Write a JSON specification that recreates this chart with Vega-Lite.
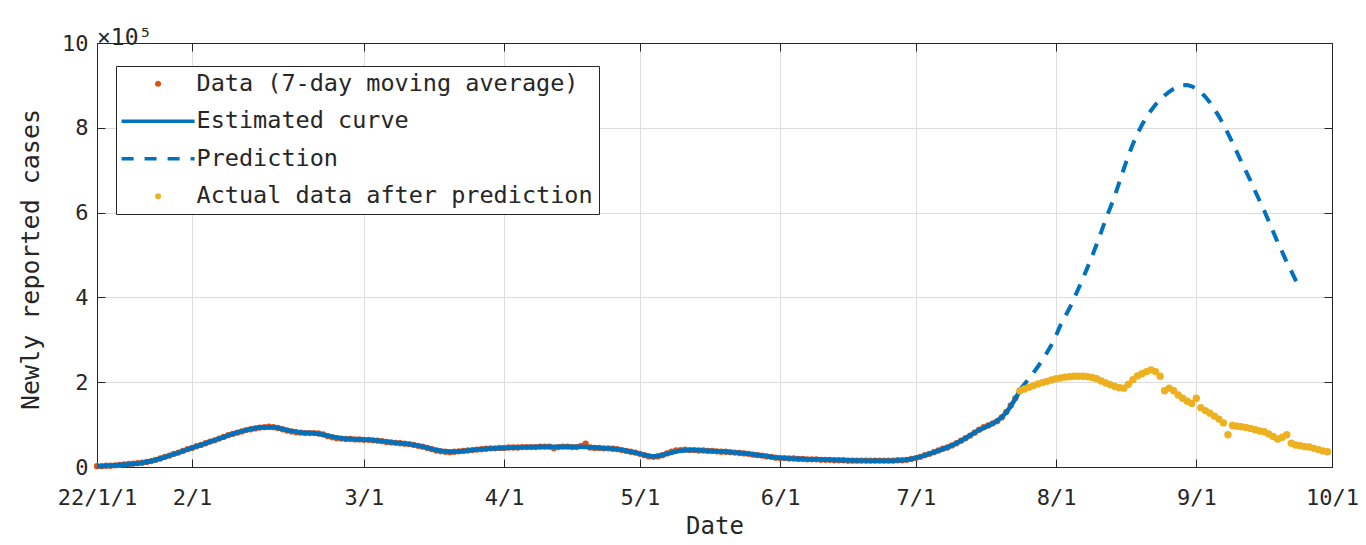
{
  "$schema": "https://vega.github.io/schema/vega-lite/v6.json",
  "autosize": "none",
  "width": 1235,
  "height": 424,
  "padding": {"left": 97, "top": 43, "right": 34, "bottom": 78},
  "background": "white",
  "title": {
    "text": "×10⁵",
    "anchor": "start",
    "frame": "group",
    "orient": "top",
    "offset": 2,
    "dy": 38,
    "baseline": "alphabetic",
    "fontSize": 23,
    "fontWeight": "normal",
    "font": "DejaVu Sans Mono",
    "color": "#262626"
  },
  "datasets": {
    "observed": [
      {"d":0,"v":2000},{"d":1,"v":2000},{"d":2,"v":3000},{"d":3,"v":3000},{"d":4,"v":4000},{"d":5,"v":5000},{"d":6,"v":6000},{"d":7,"v":7000},{"d":8,"v":8000},{"d":9,"v":9000},
      {"d":10,"v":10000},{"d":11,"v":12000},{"d":12,"v":14000},{"d":13,"v":17000},{"d":14,"v":20000},{"d":15,"v":24000},{"d":16,"v":27000},{"d":17,"v":31000},{"d":18,"v":34000},{"d":19,"v":38000},
      {"d":20,"v":42000},{"d":21,"v":45000},{"d":22,"v":49000},{"d":23,"v":52000},{"d":24,"v":56000},{"d":25,"v":60000},{"d":26,"v":63000},{"d":27,"v":67000},{"d":28,"v":71000},{"d":29,"v":75000},
      {"d":30,"v":78000},{"d":31,"v":81000},{"d":32,"v":84000},{"d":33,"v":87000},{"d":34,"v":89000},{"d":35,"v":91000},{"d":36,"v":93000},{"d":37,"v":94000},{"d":38,"v":95000},{"d":39,"v":94000},
      {"d":40,"v":92000},{"d":41,"v":89000},{"d":42,"v":86000},{"d":43,"v":84000},{"d":44,"v":82000},{"d":45,"v":81000},{"d":46,"v":80000},{"d":47,"v":80000},{"d":48,"v":80000},{"d":49,"v":79000},
      {"d":50,"v":77000},{"d":51,"v":73000},{"d":52,"v":70000},{"d":53,"v":68000},{"d":54,"v":67000},{"d":55,"v":66000},{"d":56,"v":66000},{"d":57,"v":65000},{"d":58,"v":65000},{"d":59,"v":64000},
      {"d":60,"v":64000},{"d":61,"v":63000},{"d":62,"v":62000},{"d":63,"v":61000},{"d":64,"v":59000},{"d":65,"v":58000},{"d":66,"v":57000},{"d":67,"v":56000},{"d":68,"v":55000},{"d":69,"v":54000},
      {"d":70,"v":52000},{"d":71,"v":50000},{"d":72,"v":48000},{"d":73,"v":45000},{"d":74,"v":42000},{"d":75,"v":39000},{"d":76,"v":37000},{"d":77,"v":36000},{"d":78,"v":35000},{"d":79,"v":36000},
      {"d":80,"v":37000},{"d":81,"v":38000},{"d":82,"v":39000},{"d":83,"v":40000},{"d":84,"v":41000},{"d":85,"v":42000},{"d":86,"v":43000},{"d":87,"v":44000},{"d":88,"v":44000},{"d":89,"v":45000},
      {"d":90,"v":45000},{"d":91,"v":46000},{"d":92,"v":46000},{"d":93,"v":46000},{"d":94,"v":47000},{"d":95,"v":47000},{"d":96,"v":47000},{"d":97,"v":47000},{"d":98,"v":48000},{"d":99,"v":48000},
      {"d":100,"v":48000},{"d":101,"v":44000},{"d":102,"v":47000},{"d":103,"v":48000},{"d":104,"v":48000},{"d":105,"v":47000},{"d":106,"v":47000},{"d":107,"v":50000},{"d":108,"v":55000},{"d":109,"v":46000},
      {"d":110,"v":45000},{"d":111,"v":45000},{"d":112,"v":44000},{"d":113,"v":44000},{"d":114,"v":43000},{"d":115,"v":42000},{"d":116,"v":40000},{"d":117,"v":38000},{"d":118,"v":36000},{"d":119,"v":34000},
      {"d":120,"v":31000},{"d":121,"v":28000},{"d":122,"v":25000},{"d":123,"v":24000},{"d":124,"v":25000},{"d":125,"v":28000},{"d":126,"v":32000},{"d":127,"v":36000},{"d":128,"v":39000},{"d":129,"v":40000},
      {"d":130,"v":41000},{"d":131,"v":40000},{"d":132,"v":40000},{"d":133,"v":39000},{"d":134,"v":39000},{"d":135,"v":38000},{"d":136,"v":38000},{"d":137,"v":37000},{"d":138,"v":36000},{"d":139,"v":36000},
      {"d":140,"v":35000},{"d":141,"v":34000},{"d":142,"v":33000},{"d":143,"v":32000},{"d":144,"v":31000},{"d":145,"v":29000},{"d":146,"v":28000},{"d":147,"v":27000},{"d":148,"v":25000},{"d":149,"v":24000},
      {"d":150,"v":22000},{"d":151,"v":21000},{"d":152,"v":21000},{"d":153,"v":20000},{"d":154,"v":20000},{"d":155,"v":19000},{"d":156,"v":19000},{"d":157,"v":18000},{"d":158,"v":18000},{"d":159,"v":18000},
      {"d":160,"v":17000},{"d":161,"v":17000},{"d":162,"v":17000},{"d":163,"v":16000},{"d":164,"v":16000},{"d":165,"v":16000},{"d":166,"v":15000},{"d":167,"v":15000},{"d":168,"v":15000},{"d":169,"v":15000},
      {"d":170,"v":15000},{"d":171,"v":15000},{"d":172,"v":15000},{"d":173,"v":15000},{"d":174,"v":15000},{"d":175,"v":15000},{"d":176,"v":15000},{"d":177,"v":16000},{"d":178,"v":16000},{"d":179,"v":17000},
      {"d":180,"v":19000},{"d":181,"v":21000},{"d":182,"v":24000},{"d":183,"v":28000},{"d":184,"v":31000},{"d":185,"v":35000},{"d":186,"v":39000},{"d":187,"v":43000},{"d":188,"v":46000},{"d":189,"v":51000},
      {"d":190,"v":56000},{"d":191,"v":62000},{"d":192,"v":68000},{"d":193,"v":74000},{"d":194,"v":81000},{"d":195,"v":88000},{"d":196,"v":94000},{"d":197,"v":98000},{"d":198,"v":103000},{"d":199,"v":108000},
      {"d":200,"v":117000},{"d":201,"v":130000},{"d":202,"v":145000},{"d":203,"v":162000},{"d":204,"v":180000}
    ],
    "fitted": [
      {"d":0,"v":2000},{"d":3,"v":3000},{"d":6,"v":5500},{"d":9,"v":8500},{"d":12,"v":14000},{"d":15,"v":23000},{"d":18,"v":34000},{"d":21,"v":45000},{"d":24,"v":56000},{"d":27,"v":67000},
      {"d":30,"v":78000},{"d":33,"v":87000},{"d":36,"v":93000},{"d":39,"v":94000},{"d":42,"v":87000},{"d":45,"v":81500},{"d":48,"v":79500},{"d":51,"v":74000},{"d":54,"v":68000},{"d":57,"v":65500},
      {"d":60,"v":64000},{"d":63,"v":61000},{"d":66,"v":57000},{"d":69,"v":54000},{"d":72,"v":48000},{"d":75,"v":40000},{"d":78,"v":36000},{"d":81,"v":38000},{"d":84,"v":41000},{"d":87,"v":43500},
      {"d":90,"v":45000},{"d":93,"v":46000},{"d":96,"v":47000},{"d":99,"v":47500},{"d":102,"v":47500},{"d":105,"v":47500},{"d":108,"v":47000},{"d":111,"v":45000},{"d":114,"v":43000},{"d":117,"v":38500},
      {"d":120,"v":31000},{"d":123,"v":25000},{"d":126,"v":31000},{"d":129,"v":38500},{"d":132,"v":40000},{"d":135,"v":38500},{"d":138,"v":36500},{"d":141,"v":34000},{"d":144,"v":31000},{"d":147,"v":27000},
      {"d":150,"v":22500},{"d":153,"v":20000},{"d":156,"v":19000},{"d":159,"v":18000},{"d":162,"v":17000},{"d":165,"v":16000},{"d":168,"v":15500},{"d":171,"v":15000},{"d":174,"v":15000},{"d":177,"v":15500},
      {"d":180,"v":19000},{"d":183,"v":27500},{"d":186,"v":38500},{"d":189,"v":51000},{"d":192,"v":68000},{"d":195,"v":87000},{"d":197,"v":97000},{"d":199,"v":109000},{"d":201,"v":129000},{"d":202,"v":144000},
      {"d":203,"v":161000},{"d":204,"v":180000}
    ],
    "predicted": [
      {"d":204,"v":182000},{"d":205,"v":195000},{"d":206,"v":208000},{"d":207,"v":222000},{"d":208,"v":237000},{"d":209,"v":253000},{"d":210,"v":270000},{"d":211,"v":288000},{"d":212,"v":310000},{"d":213,"v":335000},
      {"d":214,"v":355000},{"d":215,"v":375000},{"d":216,"v":398000},{"d":217,"v":422000},{"d":218,"v":446000},{"d":219,"v":472000},{"d":220,"v":498000},{"d":221,"v":526000},{"d":222,"v":555000},{"d":223,"v":585000},
      {"d":224,"v":612000},{"d":225,"v":640000},{"d":226,"v":672000},{"d":227,"v":704000},{"d":228,"v":735000},{"d":229,"v":762000},{"d":230,"v":786000},{"d":231,"v":807000},{"d":232,"v":825000},{"d":233,"v":841000},
      {"d":234,"v":855000},{"d":235,"v":866000},{"d":236,"v":876000},{"d":237,"v":885000},{"d":238,"v":892000},{"d":239,"v":897000},{"d":240,"v":900000},{"d":241,"v":901000},{"d":242,"v":898000},{"d":243,"v":892000},
      {"d":244,"v":884000},{"d":245,"v":873000},{"d":246,"v":860000},{"d":247,"v":844000},{"d":248,"v":827000},{"d":249,"v":808000},{"d":250,"v":787000},{"d":251,"v":765000},{"d":252,"v":742000},{"d":253,"v":719000},
      {"d":254,"v":697000},{"d":255,"v":675000},{"d":256,"v":651000},{"d":257,"v":628000},{"d":258,"v":605000},{"d":259,"v":580000},{"d":260,"v":555000},{"d":261,"v":530000},{"d":262,"v":507000},{"d":263,"v":483000},
      {"d":264,"v":462000},{"d":265,"v":440000},{"d":266,"v":422000}
    ],
    "after": [
      {"d":204,"v":180000},{"d":205,"v":184000},{"d":206,"v":188000},{"d":207,"v":192000},{"d":208,"v":196000},{"d":209,"v":199000},{"d":210,"v":202000},{"d":211,"v":205000},{"d":212,"v":208000},{"d":213,"v":210000},
      {"d":214,"v":212000},{"d":215,"v":213000},{"d":216,"v":214000},{"d":217,"v":214000},{"d":218,"v":214000},{"d":219,"v":213000},{"d":220,"v":211000},{"d":221,"v":208000},{"d":222,"v":203000},{"d":223,"v":198000},
      {"d":224,"v":194000},{"d":225,"v":190000},{"d":226,"v":187000},{"d":227,"v":186000},{"d":228,"v":195000},{"d":229,"v":206000},{"d":230,"v":215000},{"d":231,"v":220000},{"d":232,"v":225000},{"d":233,"v":229000},
      {"d":234,"v":225000},{"d":235,"v":214000},{"d":236,"v":180000},{"d":237,"v":186000},{"d":238,"v":180000},{"d":239,"v":170000},{"d":240,"v":162000},{"d":241,"v":155000},{"d":242,"v":150000},{"d":243,"v":162000},
      {"d":244,"v":140000},{"d":245,"v":133000},{"d":246,"v":127000},{"d":247,"v":120000},{"d":248,"v":113000},{"d":249,"v":104000},{"d":250,"v":76000},{"d":251,"v":98000},{"d":252,"v":96000},{"d":253,"v":95000},
      {"d":254,"v":93000},{"d":255,"v":91000},{"d":256,"v":88000},{"d":257,"v":85000},{"d":258,"v":83000},{"d":259,"v":78000},{"d":260,"v":72000},{"d":261,"v":66000},{"d":262,"v":70000},{"d":263,"v":76000},
      {"d":264,"v":56000},{"d":265,"v":52000},{"d":266,"v":50000},{"d":267,"v":48000},{"d":268,"v":47000},{"d":269,"v":44000},{"d":270,"v":41000},{"d":271,"v":38000},{"d":272,"v":36000}
    ]
  },
  "layer": [
    {
      "data": {"name": "observed"},
      "mark": {"type": "circle", "size": 40, "opacity": 1},
      "encoding": {
        "x": {
          "field": "d",
          "type": "quantitative",
          "scale": {"domain": [0, 273], "nice": false, "zero": false},
          "axis": {
            "orient": "bottom",
            "values": [0, 21, 59, 90, 120, 151, 181, 212, 243, 273],
            "labelExpr": "['22/1/1','2/1','3/1','4/1','5/1','6/1','7/1','8/1','9/1','10/1'][indexof([0,21,59,90,120,151,181,212,243,273], datum.value)]",
            "grid": true,
            "tickSize": -8,
            "labelPadding": 28,
            "labelFlush": false,
            "labelOverlap": false,
            "labelBound": false,
            "title": "Date",
            "titlePadding": 6
          }
        },
        "y": {
          "field": "v",
          "type": "quantitative",
          "scale": {"domain": [0, 1000000], "nice": false, "zero": true},
          "axis": {
            "orient": "left",
            "values": [0, 200000, 400000, 600000, 800000, 1000000],
            "labelExpr": "format(datum.value / 100000, 'd')",
            "grid": true,
            "tickSize": -8,
            "labelPadding": 17,
            "labelFlush": false,
            "labelOverlap": false,
            "labelBound": false,
            "title": "Newly reported cases",
            "titleFontSize": 25,
            "titleX": -67,
            "titleY": 216,
            "titleAngle": 270,
            "titleAlign": "center",
            "titleBaseline": "middle"
          }
        },
        "color": {
          "datum": "Data (7-day moving average)",
          "type": "nominal",
          "scale": {
            "domain": ["Data (7-day moving average)", "Estimated curve", "Prediction", "Actual data after prediction"],
            "range": ["#D95319", "#0072BD", "#0072BD", "#EDB120"]
          },
          "legend": {
            "title": null,
            "orient": "none",
            "legendX": 19,
            "legendY": 23,
            "direction": "vertical",
            "padding": 6,
            "fillColor": "white",
            "strokeColor": "#262626",
            "cornerRadius": 0,
            "symbolSize": 592,
            "symbolType": {"expr": "indexof(['Estimated curve','Prediction'], datum.value) >= 0 ? 'M-1,0H5' : 'M1.75,0A0.25,0.25 0 1,1 2.25,0A0.25,0.25 0 1,1 1.75,0Z'"},
            "symbolStrokeColor": {"expr": "scale('color', datum.value)"},
            "symbolStrokeWidth": {"expr": "indexof(['Estimated curve','Prediction'], datum.value) >= 0 ? 3.5 : 0"},
            "symbolDash": {"expr": "datum.value === 'Prediction' ? [12, 11] : [1, 0]"},
            "labelOffset": 51,
            "rowPadding": 12.5,
            "labelFontSize": 23.5,
            "labelFont": "DejaVu Sans Mono",
            "labelColor": "#262626",
            "labelLimit": 1000
          }
        }
      }
    },
    {
      "data": {"name": "fitted"},
      "mark": {"type": "line", "strokeWidth": 4.5, "interpolate": "monotone"},
      "encoding": {
        "x": {"field": "d", "type": "quantitative", "axis": null},
        "y": {"field": "v", "type": "quantitative", "axis": null},
        "color": {"datum": "Estimated curve", "type": "nominal"}
      }
    },
    {
      "data": {"name": "predicted"},
      "mark": {"type": "line", "strokeWidth": 4, "strokeDash": [12, 10]},
      "encoding": {
        "x": {"field": "d", "type": "quantitative", "axis": null},
        "y": {"field": "v", "type": "quantitative", "axis": null},
        "color": {"datum": "Prediction", "type": "nominal"}
      }
    },
    {
      "data": {"name": "after"},
      "mark": {"type": "circle", "size": 55, "opacity": 1},
      "encoding": {
        "x": {
          "field": "d",
          "type": "quantitative",
          "axis": {
            "orient": "top",
            "values": [0, 21, 59, 90, 120, 151, 181, 212, 243, 273],
            "labels": false,
            "grid": false,
            "tickSize": -8,
            "title": null
          }
        },
        "y": {
          "field": "v",
          "type": "quantitative",
          "axis": {
            "orient": "right",
            "values": [0, 200000, 400000, 600000, 800000, 1000000],
            "labels": false,
            "grid": false,
            "tickSize": -8,
            "title": null
          }
        },
        "color": {"datum": "Actual data after prediction", "type": "nominal"}
      }
    }
  ],
  "resolve": {"axis": {"x": "independent", "y": "independent"}},
  "config": {
    "font": "DejaVu Sans Mono",
    "view": {"stroke": null},
    "axis": {
      "domainColor": "#262626",
      "domainWidth": 1,
      "tickColor": "#262626",
      "tickWidth": 1,
      "gridColor": "#dcdcdc",
      "gridWidth": 1,
      "labelColor": "#262626",
      "labelFont": "DejaVu Sans Mono",
      "labelFontSize": 22,
      "titleColor": "#262626",
      "titleFont": "DejaVu Sans Mono",
      "titleFontSize": 24,
      "titleFontWeight": "normal"
    }
  }
}
